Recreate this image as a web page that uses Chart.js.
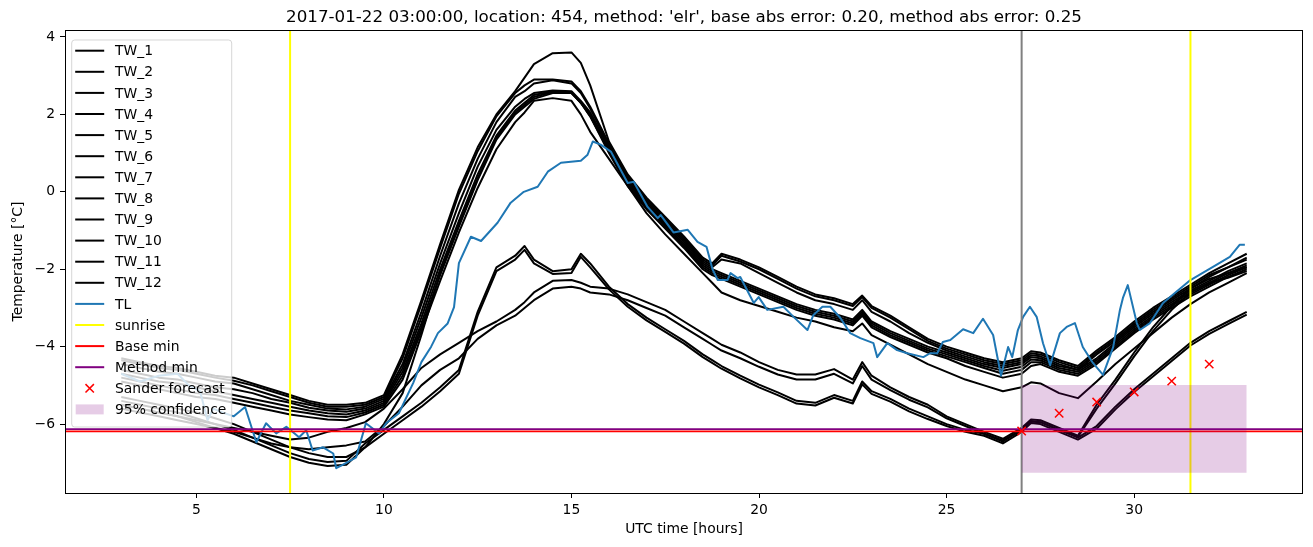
<!DOCTYPE html>
<html lang="en">
<head>
<meta charset="UTF-8">
<title>TW / TL minimum temperature forecast</title>
<script src="https://cdn.jsdelivr.net/npm/chart.js"></script>
<style>
  body { margin: 0; background: #fff; }
  #wrap { width: 1313px; height: 547px; position: relative; }
</style>
</head>
<body>
<div id="wrap"><canvas id="chart"></canvas></div>
<script>
// shared time grid (UTC hours) for the TW series
const hours = [3, 3.5, 4, 4.5, 5, 5.5, 6, 6.5, 7, 7.5,
  8, 8.5, 9, 9.5, 10, 10.5, 11, 11.5, 12, 12.5,
  13, 13.5, 13.75, 14, 14.5, 15, 15.25, 15.5, 16, 16.5, 17, 17.5, 18, 18.5,
  18.75, 19, 19.5, 20, 20.5, 21, 21.5, 22, 22.5, 22.75,
  23, 23.5, 24, 24.5, 25, 25.5, 26, 26.5, 27, 27.25,
  27.5, 28, 28.5, 29, 29.5, 30, 30.5, 31, 31.5, 32, 32.5, 33];

const tw1 = [-4.3, -4.4, -4.5, -4.55, -4.65, -4.75, -4.8, -4.95, -5.1, -5.25,
  -5.4, -5.5, -5.5, -5.45, -5.25, -4.2, -2.8, -1.35, 0.05, 1.15,
  2.0, 2.6, 2.95, 3.3, 3.58, 3.6, 3.33, 2.75, 1.3, 0.45, -0.15, -0.65, -1.15, -1.7,
  -1.85, -1.6, -1.75, -1.95, -2.2, -2.45, -2.65, -2.75, -2.9, -2.68,
  -2.95, -3.2, -3.5, -3.8, -4.0, -4.15, -4.3, -4.4, -4.3, -4.12,
  -4.15, -4.35, -4.5, -4.1, -3.75, -3.35, -3.0, -2.7, -2.4, -2.1, -1.85, -1.6];
const tw2 = [-4.35, -4.45, -4.55, -4.6, -4.7, -4.8, -4.88, -5.0, -5.15, -5.3,
  -5.45, -5.55, -5.55, -5.5, -5.3, -4.3, -2.9, -1.45, -0.05, 1.05,
  1.95, 2.55, 2.75, 2.9, 2.9, 2.85, 2.6, 2.2, 1.25, 0.4, -0.2, -0.7, -1.2, -1.75,
  -1.9, -1.65, -1.8, -2.0, -2.25, -2.5, -2.7, -2.8, -2.95, -2.72,
  -3.0, -3.25, -3.55, -3.85, -4.05, -4.2, -4.35, -4.45, -4.35, -4.17,
  -4.2, -4.4, -4.55, -4.15, -3.8, -3.4, -3.05, -2.75, -2.45, -2.15, -1.95, -1.7];
const tw3 = [-4.45, -4.55, -4.65, -4.7, -4.8, -4.9, -4.95, -5.1, -5.25, -5.4,
  -5.5, -5.6, -5.62, -5.55, -5.35, -4.45, -3.1, -1.65, -0.3, 0.85,
  1.8, 2.45, 2.6, 2.8, 2.88, 2.8, 2.55, 2.15, 1.2, 0.35, -0.25, -0.75, -1.25, -1.8,
  -1.95, -1.75, -1.85, -2.1, -2.35, -2.6, -2.8, -2.9, -3.05, -2.8,
  -3.1, -3.35, -3.65, -3.9, -4.1, -4.25, -4.4, -4.5, -4.4, -4.22,
  -4.25, -4.45, -4.6, -4.2, -3.85, -3.45, -3.1, -2.8, -2.5, -2.2, -1.95, -1.75];
const tw4 = [-4.6, -4.7, -4.8, -4.85, -4.95, -5.05, -5.1, -5.2, -5.35, -5.45,
  -5.58, -5.65, -5.68, -5.6, -5.4, -4.55, -3.25, -1.85, -0.55, 0.65,
  1.6, 2.2, 2.4, 2.55, 2.62, 2.6, 2.35, 2.05, 1.15, 0.3, -0.3, -0.8, -1.3, -1.85,
  -2.0, -2.1, -2.3, -2.5, -2.7, -2.9, -3.05, -3.15, -3.3, -3.05,
  -3.35, -3.6, -3.8, -4.0, -4.15, -4.3, -4.45, -4.55, -4.45, -4.27,
  -4.3, -4.5, -4.6, -4.3, -3.9, -3.5, -3.15, -2.85, -2.55, -2.3, -2.05, -1.85];
const tw5 = [-4.7, -4.8, -4.9, -4.95, -5.05, -5.15, -5.25, -5.35, -5.45, -5.55,
  -5.65, -5.72, -5.75, -5.65, -5.45, -4.65, -3.4, -2.0, -0.75, 0.45,
  1.45, 2.1, 2.3, 2.5, 2.6, 2.58, 2.3, 2.0, 1.1, 0.25, -0.35, -0.85, -1.35, -1.9,
  -2.05, -2.15, -2.35, -2.55, -2.75, -2.95, -3.1, -3.2, -3.35, -3.1,
  -3.4, -3.65, -3.85, -4.05, -4.2, -4.35, -4.5, -4.62, -4.52, -4.33,
  -4.35, -4.55, -4.65, -4.35, -3.95, -3.55, -3.2, -2.9, -2.6, -2.35, -2.1, -1.9];
const tw6 = [-4.8, -4.9, -5.0, -5.1, -5.2, -5.25, -5.35, -5.45, -5.55, -5.65,
  -5.72, -5.8, -5.82, -5.7, -5.5, -4.75, -3.5, -2.15, -0.9, 0.3,
  1.35, 2.0, 2.2, 2.4, 2.55, 2.55, 2.3, 1.95, 1.05, 0.2, -0.4, -0.9, -1.4, -1.95,
  -2.1, -2.2, -2.4, -2.6, -2.8, -3.0, -3.15, -3.25, -3.4, -3.15,
  -3.45, -3.7, -3.9, -4.1, -4.25, -4.4, -4.55, -4.7, -4.6, -4.4,
  -4.4, -4.6, -4.7, -4.4, -4.0, -3.6, -3.25, -2.95, -2.65, -2.4, -2.15, -1.95];
const tw7 = [-5.3, -5.4, -5.5, -5.6, -5.7, -5.85, -6.0, -6.2, -6.4, -6.6,
  -6.75, -6.85, -6.85, -6.6, -6.0, -5.2, -3.7, -2.1, -0.85, 0.35,
  1.4, 2.05, 2.25, 2.45, 2.58, 2.55, 2.3, 1.95, 1.0, 0.15, -0.45, -0.95, -1.45, -2.0,
  -2.15, -2.25, -2.45, -2.65, -2.85, -3.05, -3.2, -3.3, -3.45, -3.2,
  -3.5, -3.75, -3.95, -4.15, -4.3, -4.5, -4.65, -4.8, -4.7, -4.5,
  -4.45, -4.65, -4.75, -4.45, -4.05, -3.65, -3.3, -3.0, -2.7, -2.45, -2.2, -2.0];
const tw8 = [-4.9, -5.0, -5.1, -5.2, -5.3, -5.35, -5.45, -5.55, -5.65, -5.75,
  -5.82, -5.88, -5.9, -5.75, -5.55, -4.85, -3.6, -2.3, -1.05, 0.1,
  1.1, 1.8, 2.05, 2.35, 2.42, 2.35, 2.0, 1.55, 0.85, 0.15, -0.55, -1.1, -1.6, -2.1,
  -2.35, -2.6, -2.8, -2.95, -3.1, -3.25, -3.35, -3.5, -3.6, -3.4,
  -3.7, -3.95, -4.2, -4.45, -4.65, -4.85, -5.0, -5.15, -5.05, -4.92,
  -4.95, -5.2, -5.33, -4.9, -4.45, -4.05, -3.65, -3.25, -2.9, -2.6, -2.35, -2.1];
const tw9 = [-5.4, -5.5, -5.6, -5.7, -5.85, -6.0, -6.15, -6.35, -6.55, -6.75,
  -6.9, -6.98, -6.95, -6.5, -6.15, -5.8, -5.45, -5.05, -4.6, -3.1,
  -1.95, -1.65, -1.4, -1.75, -2.05, -2.0, -1.6, -1.85, -2.45, -2.9, -3.25, -3.55, -3.85, -4.2,
  -4.35, -4.5, -4.75, -4.98, -5.18, -5.4, -5.45, -5.25, -5.4, -4.9,
  -5.15, -5.35, -5.6, -5.8, -6.0, -6.15, -6.25, -6.45, -6.15, -5.92,
  -5.95, -6.15, -6.35, -6.05, -5.55, -5.1, -4.7, -4.3, -3.9, -3.6, -3.35, -3.1];
const tw10 = [-5.5, -5.6, -5.7, -5.8, -5.95, -6.1, -6.25, -6.45, -6.65, -6.85,
  -7.0, -7.08, -7.05, -6.6, -6.25, -5.9, -5.55, -5.15, -4.7, -3.2,
  -2.05, -1.75, -1.5, -1.85, -2.12, -2.1, -1.68, -1.95, -2.52, -2.97, -3.32, -3.62, -3.92, -4.27,
  -4.42, -4.57, -4.82, -5.05, -5.25, -5.47, -5.52, -5.32, -5.47, -4.97,
  -5.22, -5.42, -5.67, -5.87, -6.05, -6.2, -6.3, -6.5, -6.2, -5.97,
  -6.0, -6.2, -6.4, -6.12, -5.62, -5.17, -4.77, -4.37, -3.97, -3.67, -3.42, -3.17];
const tw11 = [-5.5, -5.6, -5.7, -5.8, -5.9, -6.0, -6.1, -6.2, -6.3, -6.4,
  -6.35, -6.2, -6.1, -5.95, -5.6, -5.1, -4.55, -4.2, -3.9, -3.6,
  -3.35, -3.05, -2.85, -2.6, -2.3, -2.28, -2.35, -2.45, -2.5, -2.65, -2.85, -3.05, -3.35, -3.65,
  -3.8, -3.95, -4.15, -4.4, -4.6, -4.72, -4.72, -4.58, -4.85, -4.4,
  -4.75, -5.05, -5.3, -5.5, -5.8, -6.0, -6.2, -6.38, -6.1, -5.88,
  -5.9, -6.1, -6.3, -5.5, -4.85, -4.15, -3.5, -2.95, -2.5, -2.25, -2.1, -1.95];
const tw12 = [-5.6, -5.7, -5.8, -5.9, -6.0, -6.1, -6.2, -6.35, -6.5, -6.6,
  -6.65, -6.6, -6.55, -6.45, -6.05, -5.55, -5.0, -4.6, -4.3, -3.8,
  -3.45, -3.2, -3.0, -2.8, -2.5, -2.45, -2.5, -2.6, -2.65, -2.8, -3.0, -3.2, -3.5, -3.8,
  -3.95, -4.1, -4.3, -4.52, -4.72, -4.85, -4.85, -4.7, -4.95, -4.5,
  -4.85, -5.12, -5.37, -5.57, -5.85, -6.05, -6.25, -6.42, -6.15, -5.93,
  -5.95, -6.15, -6.33, -5.6, -4.95, -4.25, -3.6, -3.05, -2.6, -2.35, -2.22, -2.05];

// TL (measured) has its own time stamps
const tlHours = [3.0, 3.5, 4.0, 4.5, 4.8, 5.1, 5.3, 5.45, 5.7, 6.0, 6.3, 6.6, 6.86, 7.13, 7.4, 7.74, 7.93,
  8.1, 8.38, 8.65, 8.73, 9.0, 9.26, 9.52, 9.87, 10.06, 10.4, 10.78, 11.0, 11.26, 11.44, 11.7, 11.87,
  12.0, 12.32, 12.59, 13.03, 13.38, 13.73, 14.1, 14.37, 14.72, 15.25, 15.43, 15.57, 15.78, 16.05,
  16.31, 16.5, 16.66, 17.03, 17.3, 17.38, 17.72, 18.1, 18.36, 18.6, 18.76, 18.9, 19.16, 19.24, 19.43,
  19.5, 19.86, 19.99, 20.22, 20.65, 20.92, 21.29, 21.45, 21.69, 21.9, 22.17, 22.43, 22.7, 23.05,
  23.15, 23.42, 23.68, 23.95, 24.38, 24.56, 24.75, 24.9, 25.1, 25.44, 25.71, 25.97, 26.24, 26.45,
  26.64, 26.75, 26.9, 27.04, 27.22, 27.4, 27.57, 27.76, 28.02, 28.2, 28.42, 28.63, 28.9, 29.17,
  29.44, 29.62, 29.7, 29.83, 30.07, 30.15, 30.42, 30.77, 31.1, 31.5, 32.1, 32.55, 32.81, 32.95];
const tlTemps = [-4.7, -4.9, -4.75, -4.7, -5.0, -5.15, -5.9, -5.6, -5.7, -5.8, -5.56, -6.47, -5.98, -6.24, -6.07, -6.34, -6.16,
  -6.68, -6.6, -6.76, -7.14, -7.0, -6.86, -5.98, -6.24, -5.98, -5.72, -4.94, -4.4, -4.0, -3.65, -3.4, -2.98,
  -1.84, -1.16, -1.27, -0.8, -0.28, 0.0, 0.13, 0.52, 0.75, 0.8, 0.96, 1.3, 1.22, 1.04,
  0.57, 0.23, 0.26, -0.39, -0.68, -0.6, -1.05, -0.98, -1.29, -1.42, -2.0, -2.28, -2.28, -2.1, -2.23,
  -2.2, -2.87, -2.72, -3.05, -2.97, -3.23, -3.57, -3.18, -2.97, -2.97, -3.26, -3.65, -3.78, -3.91,
  -4.27, -3.91, -4.09, -4.17, -4.27, -4.17, -4.17, -3.88, -3.83, -3.55, -3.65, -3.28, -3.7, -4.75,
  -4.01, -4.27, -3.57, -3.23, -2.97, -3.23, -3.91, -4.48, -3.65, -3.49, -3.39, -4.01, -4.42, -4.73,
  -4.01, -3.05, -2.74, -2.41, -3.39, -3.57, -3.39, -2.87, -2.6, -2.28, -1.94, -1.68, -1.37, -1.37];

const sunriseHours = [7.5, 31.5];
const issueHour = [27];
const baseMin = [-6.19];
const methodMin = [-6.13];
const sanderHours = [27, 28, 29, 30, 31, 32];
const sanderTemps = [-6.18, -5.72, -5.43, -5.17, -4.89, -4.45];
const ciHours = [27, 33];
const ciLow = [-7.26, -7.26];
const ciHigh = [-4.99, -4.99];

const xTicks = [5, 10, 15, 20, 25, 30];
const yTicks = [-6, -4, -2, 0, 2, 4];
const X_MIN = 1.5, X_MAX = 34.5, Y_MIN = -7.78, Y_MAX = 4.18;

const FONT = "'DejaVu Sans', sans-serif";
const twSeries = [tw1, tw2, tw3, tw4, tw5, tw6, tw7, tw8, tw9, tw10, tw11, tw12];

function pts(xs, ys) {
  return xs.map((x, i) => ({ x: x, y: ys[i] }));
}
function lineSet(label, data, color, order, width) {
  return { label: label, data: data, borderColor: color, backgroundColor: color, borderWidth: width || 2,
    pointRadius: 0, tension: 0, fill: false, borderJoinStyle: 'round', order: order };
}

const datasets = [];
twSeries.forEach((vals, i) => datasets.push(lineSet('TW_' + (i + 1), pts(hours, vals), '#000000', 100 - i)));
datasets.push(lineSet('TL', pts(tlHours, tlTemps), '#1f77b4', 80));
issueHour.forEach(h => datasets.push(lineSet('issue', [{ x: h, y: Y_MIN }, { x: h, y: Y_MAX }], '#808080', 75)));
sunriseHours.forEach(h => datasets.push(lineSet('sunrise', [{ x: h, y: Y_MIN }, { x: h, y: Y_MAX }], '#ffff00', 70)));
datasets.push(lineSet('Base min', [{ x: X_MIN, y: baseMin[0] }, { x: X_MAX, y: baseMin[0] }], '#ff0000', 60, 1.8));
datasets.push(lineSet('Method min', [{ x: X_MIN, y: methodMin[0] }, { x: X_MAX, y: methodMin[0] }], '#800080', 59, 1.8));
datasets.push({ label: 'ci low', data: pts(ciHours, ciLow), borderWidth: 0, pointRadius: 0, fill: false, order: 51 });
datasets.push({ label: '95% confidence', data: pts(ciHours, ciHigh), borderWidth: 0, pointRadius: 0,
  backgroundColor: 'rgba(128,0,128,0.2)', fill: '-1', order: 50 });
datasets.push({ label: 'Sander forecast', data: pts(sanderHours, sanderTemps), showLine: false,
  pointStyle: 'crossRot', pointRadius: 5.9, pointBorderWidth: 1.5, borderColor: '#ff0000',
  backgroundColor: '#ff0000', order: 40 });

const legendItems = twSeries.map((_, i) => ({ label: 'TW_' + (i + 1), kind: 'line', color: '#000000' }))
  .concat([
    { label: 'TL', kind: 'line', color: '#1f77b4' },
    { label: 'sunrise', kind: 'line', color: '#ffff00' },
    { label: 'Base min', kind: 'line', color: '#ff0000' },
    { label: 'Method min', kind: 'line', color: '#800080' },
    { label: 'Sander forecast', kind: 'cross', color: '#ff0000' },
    { label: '95% confidence', kind: 'patch', color: 'rgba(128,0,128,0.2)' }
  ]);

const decorations = {
  id: 'decorations',
  afterDraw(chart) {
    const ctx = chart.ctx, a = chart.chartArea;
    ctx.save();
    // axes frame
    ctx.strokeStyle = '#000';
    ctx.lineWidth = 1;
    ctx.strokeRect(a.left + 0.5, a.top + 0.5, a.right - a.left - 1, a.bottom - a.top);

    // titles
    ctx.fillStyle = '#000';
    ctx.textAlign = 'center';
    ctx.textBaseline = 'middle';
    ctx.font = '16.7px ' + FONT;
    ctx.fillText("2017-01-22 03:00:00, location: 454, method: 'elr', base abs error: 0.20, method abs error: 0.25",
      (a.left + a.right) / 2, 18);
    ctx.font = '13.9px ' + FONT;
    ctx.fillText('UTC time [hours]', (a.left + a.right) / 2, 529);
    ctx.save();
    ctx.translate(18, (a.top + a.bottom) / 2);
    ctx.rotate(-Math.PI / 2);
    ctx.fillText('Temperature [\u00b0C]', 0, 0);
    ctx.restore();

    // legend
    const x0 = a.left + 6.7, y0 = a.top + 10, w = 160, h = 387, r = 3;
    ctx.beginPath();
    ctx.moveTo(x0 + r, y0);
    ctx.lineTo(x0 + w - r, y0);
    ctx.arcTo(x0 + w, y0, x0 + w, y0 + r, r);
    ctx.lineTo(x0 + w, y0 + h - r);
    ctx.arcTo(x0 + w, y0 + h, x0 + w - r, y0 + h, r);
    ctx.lineTo(x0 + r, y0 + h);
    ctx.arcTo(x0, y0 + h, x0, y0 + h - r, r);
    ctx.lineTo(x0, y0 + r);
    ctx.arcTo(x0, y0, x0 + r, y0, r);
    ctx.closePath();
    ctx.fillStyle = 'rgba(255,255,255,0.8)';
    ctx.fill();
    ctx.strokeStyle = 'rgba(204,204,204,0.8)';
    ctx.lineWidth = 1;
    ctx.stroke();

    ctx.textAlign = 'left';
    ctx.font = '13.9px ' + FONT;
    legendItems.forEach((it, i) => {
      const cy = y0 + 10.7 + i * 21.1;
      if (it.kind === 'line') {
        ctx.strokeStyle = it.color;
        ctx.lineWidth = 2;
        ctx.beginPath();
        ctx.moveTo(x0 + 3.5, cy);
        ctx.lineTo(x0 + 32.5, cy);
        ctx.stroke();
      } else if (it.kind === 'cross') {
        ctx.strokeStyle = it.color;
        ctx.lineWidth = 1.5;
        const cx = x0 + 18, d = 4.2;
        ctx.beginPath();
        ctx.moveTo(cx - d, cy - d); ctx.lineTo(cx + d, cy + d);
        ctx.moveTo(cx - d, cy + d); ctx.lineTo(cx + d, cy - d);
        ctx.stroke();
      } else {
        ctx.fillStyle = it.color;
        ctx.fillRect(x0 + 4, cy - 5, 28, 10);
      }
      ctx.fillStyle = '#000';
      ctx.fillText(it.label, x0 + 43.3, cy + 1);
    });
    ctx.restore();
  }
};

function tickLabel(v) {
  return v < 0 ? '\u2212' + Math.abs(v) : String(v);
}

new Chart(document.getElementById('chart'), {
  type: 'line',
  data: { datasets: datasets },
  options: {
    responsive: true,
    maintainAspectRatio: false,
    animation: false,
    events: [],
    layout: { padding: { left: 0, right: 10, top: 30, bottom: 0 } },
    plugins: { legend: { display: false }, tooltip: { enabled: false }, title: { display: false } },
    scales: {
      x: {
        type: 'linear', min: X_MIN, max: X_MAX,
        afterBuildTicks: s => { s.ticks = xTicks.map(v => ({ value: v })); },
        afterFit: s => { s.height = 54; },
        grid: { drawOnChartArea: false, drawTicks: true, tickLength: 5, color: '#000', tickWidth: 1 },
        border: { display: false },
        ticks: { color: '#000', font: { family: FONT, size: 13.9 }, padding: 4, maxRotation: 0, autoSkip: false,
          callback: v => tickLabel(v) }
      },
      y: {
        type: 'linear', min: Y_MIN, max: Y_MAX,
        afterBuildTicks: s => { s.ticks = yTicks.map(v => ({ value: v })); },
        afterFit: s => { s.width = 65; },
        grid: { drawOnChartArea: false, drawTicks: true, tickLength: 5, color: '#000', tickWidth: 1 },
        border: { display: false },
        ticks: { color: '#000', font: { family: FONT, size: 13.9 }, padding: 5, autoSkip: false,
          callback: v => tickLabel(v) }
      }
    }
  },
  plugins: [decorations]
});
</script>
</body>
</html>
